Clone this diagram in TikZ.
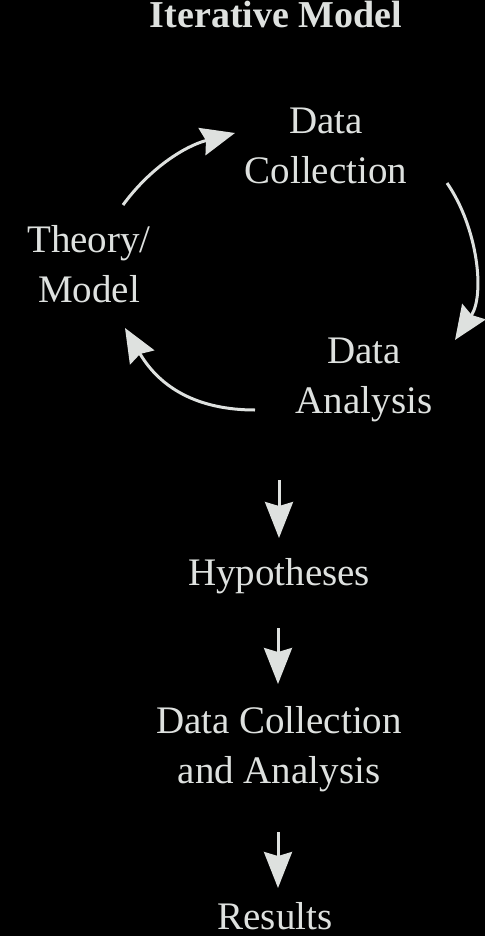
\documentclass[tikz,border=0pt]{standalone}
\usepackage{fontspec}
\setmainfont{Liberation Serif}
\usetikzlibrary{arrows.meta}
\definecolor{fg}{RGB}{222,225,223}
\begin{document}
\begin{tikzpicture}[x=1pt,y=-1pt,
  lbl/.style={text=fg,inner sep=0pt,align=center,font=\fontsize{39}{50}\selectfont},
  ttl/.style={text=fg,inner sep=0pt,font=\fontsize{38}{46}\selectfont\bfseries},
  conn/.style={draw=fg,line width=3pt,-{Stealth[length=36pt,width=28pt,inset=4pt]}},
  cconn/.style={draw=fg,line width=3pt,-{Stealth[length=34pt,width=28pt,inset=4pt]}}]
\fill[black] (0,0) rectangle (485,936);
\useasboundingbox (0,0) rectangle (485,936);
\node[ttl,anchor=base] (title) at (276,28) {Iterative Model};
\node[lbl,anchor=center] (dc) at (326,148) {\strut Data\\\strut Collection};
\node[lbl,anchor=center] (tm) at (89,267) {\strut Theory/\\\strut Model};
\node[lbl,anchor=center] (da) at (364,378) {\strut Data\\\strut Analysis};
\node[lbl,anchor=base] (hyp) at (279,585) {Hypotheses};
\node[lbl,anchor=center] (dca) at (279,748) {\strut Data Collection\\\strut and Analysis};
\node[lbl,anchor=base] (res) at (275,929) {Results};
% curved cycle
\coordinate (c1s) at (123,205);
\coordinate (c1e) at (235,133);
\coordinate (c2s) at (447,183);
\coordinate (c2e) at (455,340);
\coordinate (c3s) at (255,410);
\coordinate (c3e) at (125,328);
\draw[cconn] (c1s) .. controls (150,168) and (185,146) .. (c1e);
\draw[cconn] (c2s) .. controls (478,228) and (485,295) .. (c2e);
\draw[cconn] (c3s) .. controls (198,410) and (160,388) .. (c3e);
% straight arrows
\coordinate (a1s) at (279,480);
\coordinate (a1e) at (279,538);
\coordinate (a2s) at (278,628);
\coordinate (a2e) at (278,684);
\coordinate (a3s) at (278,832);
\coordinate (a3e) at (278,888);
\draw[conn] (a1s) -- (a1e);
\draw[conn] (a2s) -- (a2e);
\draw[conn] (a3s) -- (a3e);
\end{tikzpicture}
\end{document}
